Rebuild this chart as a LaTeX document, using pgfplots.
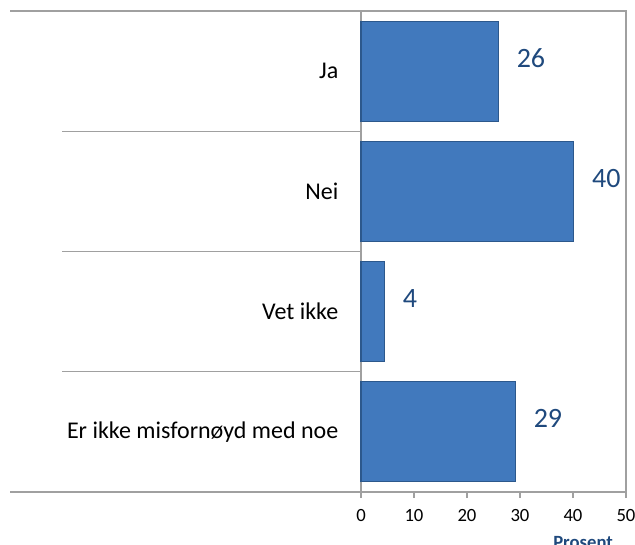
\documentclass[border=0pt]{standalone}
\usepackage{pgfplots}
\pgfplotsset{compat=1.18}
\usepackage{fontspec}
\setmainfont{Carlito}
\definecolor{barfill}{RGB}{65,121,189}
\definecolor{bardraw}{RGB}{44,88,140}
\definecolor{lblblue}{RGB}{31,73,125}
\definecolor{linegray}{RGB}{160,160,160}
\begin{document}
\begin{tikzpicture}
\begin{axis}[
  name=ax,
  at={(0,0)}, anchor=south west,
  scale only axis,
  width=198.75pt, height=360.75pt,
  xbar,
  bar width=75pt,
  xmin=0, xmax=50,
  ymin=-0.5, ymax=3.5,
  y dir=reverse,
  xtick={0,10,20,30,40,50},
  xtick pos=lower,
  tick align=outside,
  major tick length=4.5pt,
  x tick style={draw=linegray, line width=0.8pt},
  ytick={0,1,2,3},
  yticklabels={Ja,Nei,Vet ikke,Er ikke misfornøyd med noe},
  y tick style={draw=none},
  yticklabel style={font=\fontsize{18}{18}\selectfont, anchor=east, xshift=-9pt},
  xticklabel style={font=\fontsize{14}{14}\selectfont, yshift=-5pt},
  /pgf/number format/assume math mode=true,
  axis line style={draw=linegray, line width=0.8pt},
  clip=false,
  xlabel={Prosent},
  xlabel style={at={(axis description cs:0.838,-0.105)}, anchor=center, font=\fontsize{14}{14}\selectfont\bfseries, text=lblblue},
  nodes near coords={\pgfmathprintnumber[fixed,precision=0]{\pgfplotspointmeta}},
  every node near coord/.append style={anchor=west, inner sep=0pt, xshift=13.5pt, yshift=10pt, font=\fontsize{21}{21}\selectfont, text=lblblue},
]
\addplot[fill=barfill, draw=bardraw, line width=0.8pt] coordinates {
  (25.9,0) (40.1,1) (4.4,2) (29.1,3)
};
\draw[linegray, line width=0.8pt] (axis cs:-66.2,-0.5) -- (axis cs:0,-0.5);
\draw[linegray, line width=0.8pt] (axis cs:-66.2,3.5) -- (axis cs:0,3.5);
\draw[linegray, line width=0.8pt] (axis cs:-56.4,0.5) -- (axis cs:0,0.5);
\draw[linegray, line width=0.8pt] (axis cs:-56.4,1.5) -- (axis cs:0,1.5);
\draw[linegray, line width=0.8pt] (axis cs:-56.4,2.5) -- (axis cs:0,2.5);
\end{axis}
\pgfresetboundingbox
\path (-270.75pt,-39pt) rectangle (205.5pt,369pt);
\end{tikzpicture}
\end{document}
